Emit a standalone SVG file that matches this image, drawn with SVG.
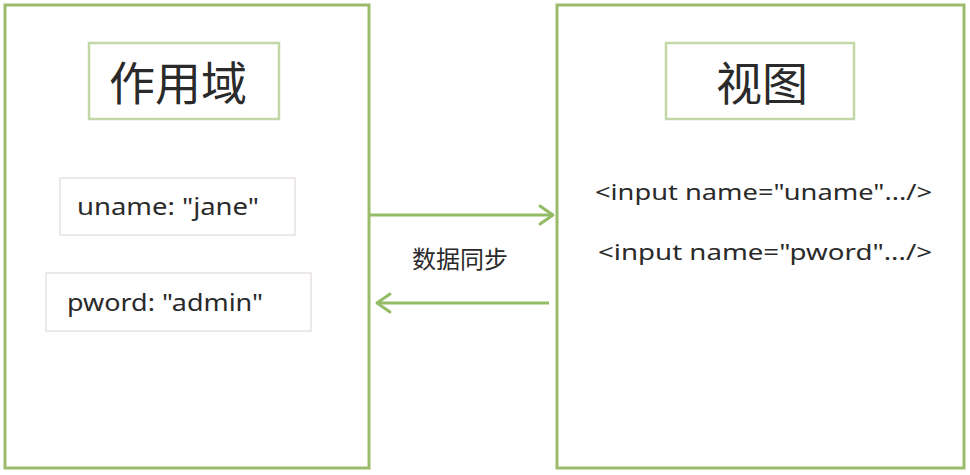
<svg xmlns="http://www.w3.org/2000/svg" width="970" height="475" viewBox="0 0 970 475">
<defs>
<style>
.outer{fill:#fff;stroke:#9bbb6a;stroke-width:3}
.title{fill:#fff;stroke:#c4d7a6;stroke-width:2.5}
.field{fill:#fff;stroke:#e8e2e2;stroke-width:1.5}
.conn{stroke:#94bb66;stroke-width:3;fill:none}
.head{stroke:#94bb66;stroke-width:3;fill:none;stroke-linecap:round;stroke-linejoin:round}
.t{font-family:"Noto Sans","Liberation Sans","Noto Sans CJK SC",sans-serif;fill:#2a2a2a}
.cjk{font-family:"Noto Sans CJK SC","Noto Sans",sans-serif;fill:#2a2a2a}
</style>
</defs>
<rect width="970" height="475" fill="#fff"/>
<g id="scope">
<rect class="outer" x="5" y="5" width="364" height="463"/>
<g id="scope-title">
<rect class="title" x="89" y="43" width="190" height="76"/>
<text class="cjk" x="178" y="100" font-size="46" text-anchor="middle">作用域</text>
</g>
<g id="uname">
<rect class="field" x="60" y="178" width="235" height="57"/>
<text class="t" x="77" y="215" font-size="24" textLength="182" lengthAdjust="spacingAndGlyphs">uname: "jane"</text>
</g>
<g id="pword">
<rect class="field" x="46" y="273" width="265" height="58"/>
<text class="t" x="67" y="311" font-size="24" textLength="196" lengthAdjust="spacingAndGlyphs">pword: "admin"</text>
</g>
</g>
<g id="view">
<rect class="outer" x="557" y="5" width="407" height="463"/>
<g id="view-title">
<rect class="title" x="666" y="43" width="188" height="76"/>
<text class="cjk" x="762" y="100" font-size="46" text-anchor="middle">视图</text>
</g>
<text class="t" x="595" y="200" font-size="22" textLength="337" lengthAdjust="spacingAndGlyphs">&lt;input name="uname".../&gt;</text>
<text class="t" x="598" y="260" font-size="22" textLength="334" lengthAdjust="spacingAndGlyphs">&lt;input name="pword".../&gt;</text>
</g>
<g id="connectors">
<line class="conn" x1="370" y1="215" x2="553" y2="215"/>
<polyline class="head" points="540,206 553,215 540,224"/>
<line class="conn" x1="549" y1="303" x2="377" y2="303"/>
<polyline class="head" points="390,294 377,303 390,312"/>
<text class="cjk" x="460" y="268" font-size="24" text-anchor="middle">数据同步</text>
</g>
</svg>
